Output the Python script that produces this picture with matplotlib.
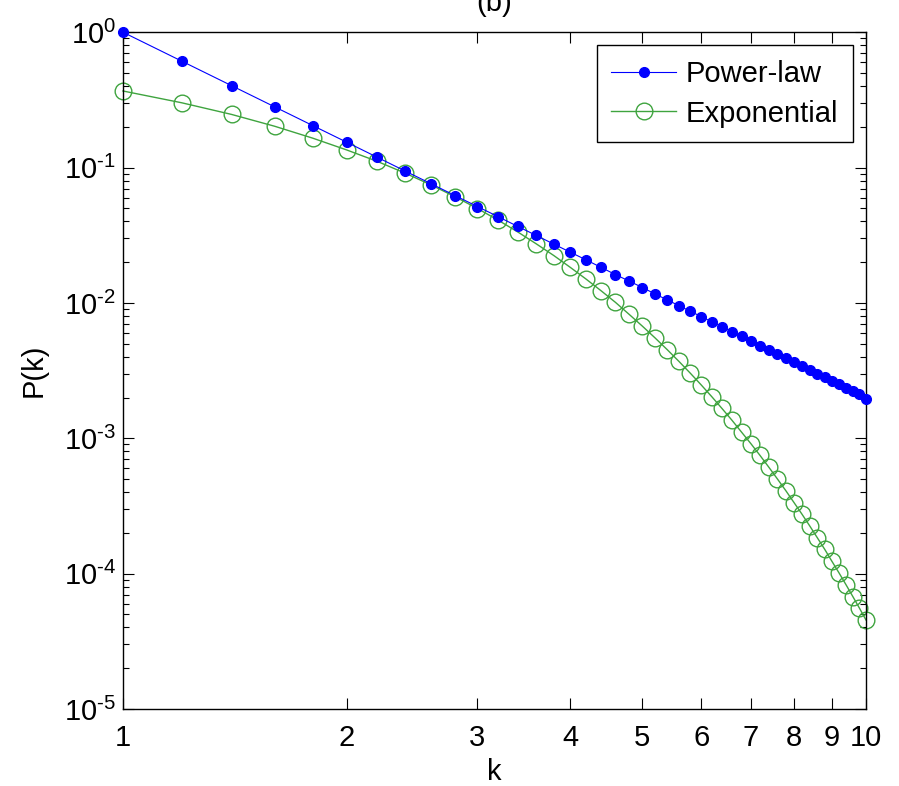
import matplotlib
matplotlib.use("Agg")
import matplotlib.pyplot as plt
from matplotlib.ticker import FixedLocator, FixedFormatter, LogLocator, NullFormatter

plt.rcParams['font.family'] = ['Liberation Sans', 'DejaVu Sans']
plt.rcParams['mathtext.fontset'] = 'custom'
plt.rcParams['mathtext.rm'] = 'Liberation Sans'
plt.rcParams['mathtext.it'] = 'Liberation Sans'

k = [1.0, 1.2, 1.4, 1.6, 1.8, 2.0, 2.2, 2.4, 2.6, 2.8,
     3.0, 3.2, 3.4, 3.6, 3.8, 4.0, 4.2, 4.4, 4.6, 4.8,
     5.0, 5.2, 5.4, 5.6, 5.8, 6.0, 6.2, 6.4, 6.6, 6.8,
     7.0, 7.2, 7.4, 7.6, 7.8, 8.0, 8.2, 8.4, 8.6, 8.8,
     9.0, 9.2, 9.4, 9.6, 9.8, 10.0]

power_law = [1.0, 0.611, 0.403, 0.281, 0.2045, 0.154, 0.119, 0.094, 0.0758, 0.062,
             0.0515, 0.0433, 0.0367, 0.0315, 0.0272, 0.0237, 0.0208, 0.0183, 0.0162, 0.0145,
             0.0130, 0.01166, 0.01053, 0.00955, 0.00868, 0.00793, 0.00726, 0.00666, 0.00613, 0.00565,
             0.00522, 0.00484, 0.00450, 0.00418, 0.00390, 0.00364, 0.00341, 0.00319, 0.00300, 0.00282,
             0.00265, 0.00250, 0.00236, 0.00223, 0.00211, 0.00195]

exponential = [0.368, 0.301, 0.247, 0.202, 0.165, 0.135, 0.111, 0.0907, 0.0743, 0.0608,
               0.0498, 0.0408, 0.0334, 0.0273, 0.0224, 0.0183, 0.0150, 0.0123, 0.0101, 0.00823,
               0.00674, 0.00552, 0.00452, 0.00370, 0.00303, 0.00248, 0.00203, 0.00166, 0.00136, 0.00111,
               0.000912, 0.000747, 0.000611, 0.000500, 0.000410, 0.000335, 0.000275, 0.000225, 0.000184, 0.000151,
               0.000123, 0.000101, 0.0000827, 0.0000677, 0.0000555, 0.0000454]

x_ticks = [1, 2, 3, 4, 5, 6, 7, 8, 9, 10]
x_ticklabels = ['1', '2', '3', '4', '5', '6', '7', '8', '9', '10']
y_ticks = [1e-5, 1e-4, 1e-3, 1e-2, 1e-1, 1]
y_ticklabels = [r'$10^{\text{-5}}$', r'$10^{\text{-4}}$', r'$10^{\text{-3}}$',
                r'$10^{\text{-2}}$', r'$10^{\text{-1}}$', r'$10^{\text{0}}$']

fs = 21

fig = plt.figure(figsize=(8.99, 7.86), dpi=100)
ax = fig.add_axes([0.1368, 0.098, 0.8265, 0.861])

ax.loglog(k, power_law, '-o', color='blue', lw=0.8, ms=7, mfc='blue', mec='blue',
          label='Power-law', clip_on=False, zorder=3)
ax.loglog(k, exponential, '-o', color='#3fa43f', lw=1.0, ms=12, mfc='none', mec='#3fa43f',
          mew=1.0, label='Exponential', clip_on=False, zorder=2)

ax.set_xlim(1, 10)
ax.set_ylim(1e-5, 1)

ax.xaxis.set_major_locator(FixedLocator(x_ticks))
ax.xaxis.set_major_formatter(FixedFormatter(x_ticklabels))
ax.xaxis.set_minor_locator(FixedLocator([]))
ax.yaxis.set_major_locator(FixedLocator(y_ticks))
ax.yaxis.set_major_formatter(FixedFormatter(y_ticklabels))
ax.yaxis.set_minor_locator(LogLocator(base=10, subs=range(2, 10), numticks=20))
ax.yaxis.set_minor_formatter(NullFormatter())

ax.tick_params(which='both', direction='in', top=True, right=True, labelsize=fs, width=0.8)
ax.tick_params(which='major', length=8)
ax.tick_params(which='minor', length=4)
ax.tick_params(axis='x', which='major', pad=11)
ax.tick_params(axis='y', which='major', pad=5)
for s in ax.spines.values():
    s.set_linewidth(1.0)

ax.set_xlabel('k', fontsize=fs, labelpad=4)
ax.set_ylabel('P(k)', fontsize=fs, labelpad=12)
ax.set_title('(b)', fontsize=fs, pad=15)

leg = ax.legend(loc='upper right', fontsize=fs, fancybox=False, edgecolor='black',
                handlelength=2.2, handletextpad=0.35, borderaxespad=0.45, borderpad=0.5,
                framealpha=1, labelspacing=0.4)
leg.get_frame().set_linewidth(1.0)

fig.savefig('out.png', dpi=100)
